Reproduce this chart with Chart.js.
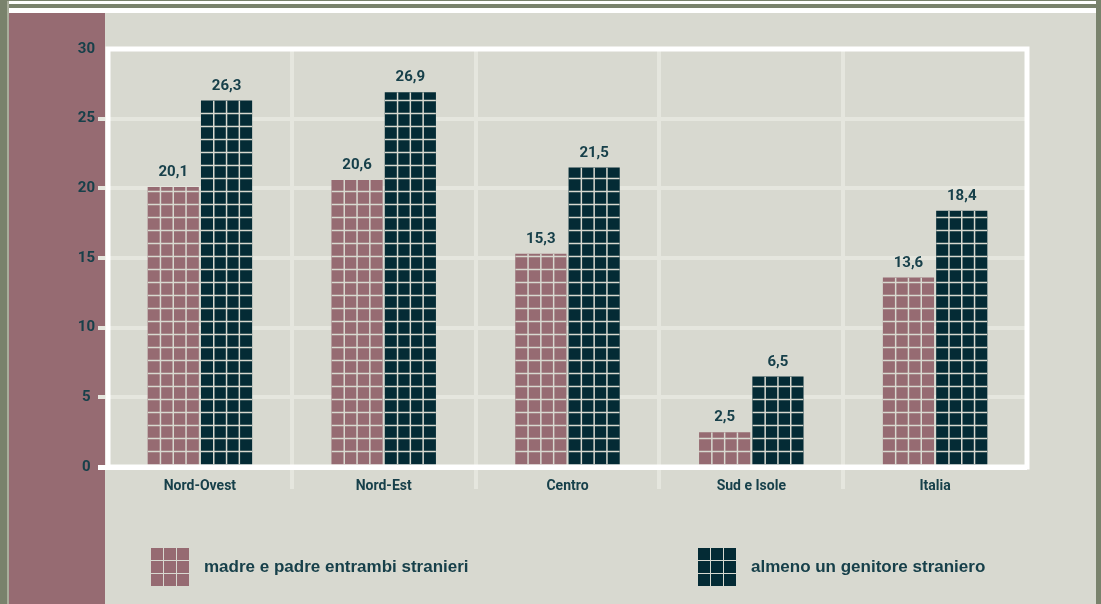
<!DOCTYPE html>
<html>
<head>
<meta charset="utf-8">
<script src="https://cdn.jsdelivr.net/npm/chart.js@4.4.1/dist/chart.umd.min.js"></script>
<style>
    body
    {
        margin: 0;
        width: 1101px;
        height: 604px;
        overflow: hidden;
        background: #79826c;
        position: relative;
        font-family: Roboto, "Liberation Sans", sans-serif;
    }
    .strip { position: absolute; background: #ffffff; left: 9px; width: 1087px; }
    #frame { position: absolute; left: 9px; top: 13px; width: 1087px; height: 591px; background: #d8d9d0; }
    #edge { position: absolute; left: 7px; top: 1px; width: 2px; height: 603px; background: #a9ae9c; }
    #panel { position: absolute; left: 9px; top: 13px; width: 96px; height: 591px; background: #966b72; }
    #chart { position: absolute; left: 0; top: 0; }
    .legendItem { position: absolute; top: 548px; height: 38px; display: flex; align-items: center; }
    .legendBox
    {
        width: 38px; height: 38px;
        display: grid;
        grid-template-columns: repeat(3, 1fr);
        grid-template-rows: repeat(3, 1fr);
        gap: 1.5px;
        background: #d8d9d0;
    }
    .legendText
    {
        margin-left: 15px;
        font-family: "Liberation Sans", Arial, sans-serif;
        font-size: 17px;
        font-weight: bold;
        color: #17404a;
        white-space: nowrap;
    }
</style>
</head>
<body>
<div class="strip" style="top:1px;height:3px"></div>
<div class="strip" style="top:8px;height:5px"></div>
<div id="edge"></div>
<div id="frame"></div>
<div id="panel"></div>
<canvas id="chart" width="1101" height="604"></canvas>
<div class="legendItem" style="left:151px"><div class="legendBox" id="box0"></div><span class="legendText" id="text0"></span></div>
<div class="legendItem" style="left:698px"><div class="legendBox" id="box1"></div><span class="legendText" id="text1"></span></div>

<script>
// data
let regions = ["Nord-Ovest", "Nord-Est", "Centro", "Sud e Isole", "Italia"];
let entrambiStranieri = [20.1, 20.6, 15.3, 2.5, 13.6];
let almenoUnGenitore = [26.3, 26.9, 21.5, 6.5, 18.4];
let seriesNames = ["madre e padre entrambi stranieri", "almeno un genitore straniero"];
let yTicks = [0, 5, 10, 15, 20, 25, 30];

let pinkColor = "#966b72";
let darkColor = "#042b35";
let textColor = "#17404a";
let beige = "#d8d9d0";
let lightGrid = "#e5e6de";

function buildLegend()
{
    let colors = [pinkColor, darkColor];
    for (let i = 0; i < 2; i++)
    {
        let box = document.getElementById('box' + i);
        for (let c = 0; c < 9; c++)
        {
            let cell = document.createElement('div');
            cell.style.background = colors[i];
            box.appendChild(cell);
        }
        document.getElementById('text' + i).textContent = seriesNames[i];
    }
}

// grid of small cells on every bar + value labels
let barCellsPlugin =
{
    id: 'barCells',
    afterDatasetsDraw(chart)
    {
        let ctx = chart.ctx;
        chart.data.datasets.forEach((ds, di) =>
        {
            let meta = chart.getDatasetMeta(di);
            meta.data.forEach((bar, i) =>
            {
                let left = bar.x - bar.width / 2;
                let top = bar.y;
                let h = bar.base - bar.y;
                ctx.save();
                ctx.beginPath();
                ctx.rect(left, top, bar.width, h);
                ctx.clip();
                ctx.strokeStyle = beige;
                ctx.lineWidth = 1.5;
                ctx.beginPath();
                let colW = bar.width / 4;
                for (let k = 1; k < 4; k++)
                {
                    ctx.moveTo(left + colW * k, top);
                    ctx.lineTo(left + colW * k, bar.base);
                }
                for (let yy = bar.base - 13; yy > top; yy -= 13)
                {
                    ctx.moveTo(left, yy);
                    ctx.lineTo(left + bar.width, yy);
                }
                ctx.stroke();
                ctx.restore();

                ctx.save();
                ctx.fillStyle = textColor;
                ctx.font = "bold 15px Roboto";
                ctx.textAlign = "center";
                ctx.textBaseline = "bottom";
                ctx.fillText(ds.data[i].toFixed(1).replace('.', ','), bar.x, top - 7);
                ctx.restore();
            });
        });
    },
    afterDraw(chart)
    {
        let a = chart.chartArea;
        let ctx = chart.ctx;
        ctx.save();
        ctx.strokeStyle = "#ffffff";
        ctx.lineWidth = 5;
        ctx.strokeRect(a.left, a.top, a.right - a.left, a.bottom - a.top);
        ctx.restore();
    }
};

function drawChart()
{
    let chartElement = document.getElementById('chart').getContext('2d');

    new Chart(chartElement,
        {
            type: 'bar',
            data:
                {
                    labels: regions,
                    datasets:
                        [
                            {
                                label: seriesNames[0],
                                data: entrambiStranieri,
                                backgroundColor: pinkColor
                            },
                            {
                                label: seriesNames[1],
                                data: almenoUnGenitore,
                                backgroundColor: darkColor
                            }
                        ]
                },
            options:
                {
                    responsive: false,
                    animation: false,
                    devicePixelRatio: 1,
                    categoryPercentage: 0.58,
                    barPercentage: 0.96,
                    layout: { padding: { top: 49, right: 74, left: 0, bottom: 0 } },
                    plugins:
                        {
                            legend: { display: false },
                            tooltip: { enabled: false }
                        },
                    scales:
                        {
                            x:
                                {
                                    afterFit: (scale) => { scale.height = 137; },
                                    border: { display: false },
                                    grid:
                                        {
                                            offset: true,
                                            lineWidth: 4,
                                            tickLength: 22,
                                            color: (c) => (c.index === undefined || c.index === 0) ? 'rgba(0,0,0,0)' : lightGrid
                                        },
                                    ticks:
                                        {
                                            padding: -11,
                                            color: textColor,
                                            font: { family: 'Roboto', size: 14, weight: 'bold' }
                                        }
                                },
                            y:
                                {
                                    min: 0,
                                    max: 30,
                                    afterFit: (scale) => { scale.width = 108; },
                                    afterBuildTicks: (scale) => { scale.ticks = yTicks.map(v => ({ value: v })); },
                                    border: { display: false },
                                    grid:
                                        {
                                            tickLength: 10,
                                            lineWidth: (c) => c.tick && c.tick.value === 0 ? 5 : 4,
                                            color: (c) =>
                                            {
                                                if (!c.tick) return 'rgba(0,0,0,0)';
                                                if (c.tick.value === 0) return '#ffffff';
                                                if (c.tick.value === 30) return 'rgba(0,0,0,0)';
                                                return lightGrid;
                                            }
                                        },
                                    ticks:
                                        {
                                            crossAlign: 'center',
                                            padding: 3,
                                            color: textColor,
                                            font: { family: 'Roboto', size: 15, weight: 'bold' }
                                        }
                                }
                        }
                },
            plugins: [barCellsPlugin]
        });
}

buildLegend();
drawChart();
</script>
</body>
</html>
